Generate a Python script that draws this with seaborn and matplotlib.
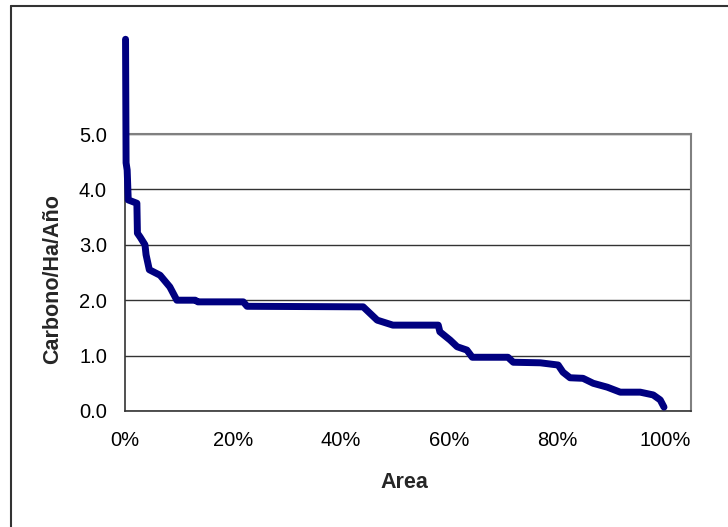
"""
Curva de carbono acumulado por área (Carbono/Ha/Año vs % de área).
"""

import matplotlib
matplotlib.use("Agg")
import matplotlib.pyplot as plt
from matplotlib.lines import Line2D
from matplotlib.ticker import FuncFormatter
import pandas as pd
import seaborn as sns

# Fracción de área acumulada (0-1) y carbono por hectárea por año
AREA = [0.001, 0.002, 0.004, 0.006, 0.022, 0.023, 0.028, 0.037, 0.039, 0.043,
        0.045, 0.065, 0.083, 0.096, 0.130, 0.135, 0.219, 0.226, 0.441, 0.467,
        0.496, 0.580, 0.583, 0.602, 0.615, 0.633, 0.643, 0.709, 0.719, 0.769,
        0.802, 0.811, 0.824, 0.848, 0.867, 0.893, 0.917, 0.954, 0.978, 0.991,
        0.998]
CARBONO = [6.71, 4.48, 4.35, 3.81, 3.75, 3.21, 3.14, 3.00, 2.82, 2.64,
           2.55, 2.45, 2.24, 2.00, 2.00, 1.97, 1.97, 1.89, 1.88, 1.64,
           1.55, 1.55, 1.43, 1.28, 1.16, 1.10, 0.97, 0.97, 0.88, 0.87,
           0.83, 0.70, 0.60, 0.59, 0.50, 0.43, 0.34, 0.34, 0.29, 0.20,
           0.07]

Y_TICKS = [0, 1, 2, 3, 4, 5]
X_TICKS = [0, 0.2, 0.4, 0.6, 0.8, 1.0]

sns.set_style("white")
plt.rcParams["font.family"] = ["Liberation Sans", "DejaVu Sans"]

df = pd.DataFrame({"Area": AREA, "Carbono": CARBONO})

fig = plt.figure(figsize=(7.28, 5.27), dpi=100)
ax = fig.add_axes([125 / 728, 1 - 411 / 527, 566 / 728, 277 / 527])

sns.lineplot(data=df, x="Area", y="Carbono", ax=ax, color="#000080",
             linewidth=5.0, clip_on=False, zorder=5)

ax.set_xlim(0, 1.048)
ax.set_ylim(0, 5)
ax.set_yticks(Y_TICKS)
ax.set_xticks(X_TICKS)
ax.yaxis.set_major_formatter(FuncFormatter(lambda v, _: f"{v:.1f}"))
ax.xaxis.set_major_formatter(FuncFormatter(lambda v, _: f"{v * 100:.0f}%"))

ax.grid(axis="y", color="#333333", linewidth=1)
ax.grid(axis="x", visible=False)
ax.tick_params(axis="both", direction="out", length=5, width=1,
               color="#333333", labelsize=14.5, labelcolor="black")
ax.tick_params(axis="x", pad=9.5)
ax.tick_params(axis="y", pad=8)

for side in ["left", "bottom"]:
    ax.spines[side].set_color("#333333")
    ax.spines[side].set_linewidth(1.2)
for side in ["top", "right"]:
    ax.spines[side].set_color("#808080")
    ax.spines[side].set_linewidth(1.5)

ax.set_xlabel("Area", fontsize=15.5, fontweight="bold")
ax.set_ylabel("Carbono/Ha/Año", fontsize=15.5, fontweight="bold")
ax.xaxis.set_label_coords(0.493, -0.222)
ax.yaxis.set_label_coords(-0.11, 0.478)

# Borde exterior del gráfico
fig.add_artist(Line2D([11 / 728, 11 / 728], [0, 1 - 6 / 527],
                      transform=fig.transFigure, color="#333333", linewidth=1.5))
fig.add_artist(Line2D([11 / 728, 1], [1 - 6 / 527, 1 - 6 / 527],
                      transform=fig.transFigure, color="#333333", linewidth=1.5))

plt.savefig("out.png", dpi=100)
plt.close()
